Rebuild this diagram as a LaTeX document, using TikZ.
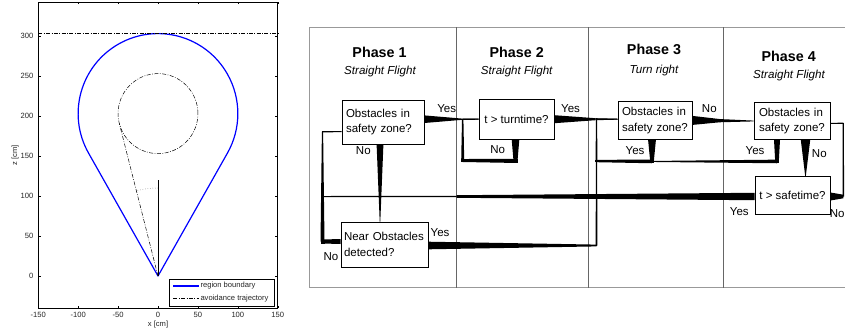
\documentclass[tikz,border=0pt]{standalone}
\usepackage{fontspec}
\setmainfont{Liberation Sans}
\usetikzlibrary{calc}
\newcommand\tapr[4]{\fill ($#1!#3!90:#2$) -- ($#2!#4!-90:#1$) -- ($#2!#4!90:#1$) -- ($#1!#3!-90:#2$) -- cycle;}
\newcommand\cornsq[2]{\fill ($#1+(-#2,-#2)$) rectangle ($#1+(#2,#2)$);}
\begin{document}
\begin{tikzpicture}[x=1pt,y=-1pt,
  every node/.style={inner sep=0pt},
  box/.style={draw=black, line width=0.9pt, fill=white, inner sep=0pt, font=\fontsize{11.5}{15.5}\selectfont},
  lab/.style={font=\fontsize{11.5}{14}\selectfont, anchor=base},
  ttl/.style={font=\fontsize{14.3}{17}\selectfont\bfseries, anchor=base},
  sub/.style={font=\fontsize{11.6}{14}\selectfont\itshape, anchor=base},
  frm/.style={draw=black!40, line width=1pt},
  divd/.style={draw=black!60, line width=1.2pt},
  tk/.style={font=\fontsize{7.6}{9}\selectfont, text=black!85},
  ddot/.style={dash pattern=on 4pt off 1.5pt on 0.8pt off 1.5pt, line width=0.5pt},
]
\useasboundingbox (0,0) rectangle (845,330);
\fill[white] (0,0) rectangle (845,330);

% ---------------- plot ----------------
\begin{scope}[shift={(158,276)}, x=0.7985pt, y=0.8pt]
  \draw[line width=0.6pt] (-150,-40) rectangle (150,342.5);
  \foreach \t [count=\i] in {-150,-100,...,150} {
    \draw[line width=0.5pt] (\t,-40) -- ++(0,3);
    \draw[line width=0.5pt] (\t,342.5) -- ++(0,-3);
    \node[tk] (xt\i) at (\t,-48.8) {\t};
  }
  \foreach \t [count=\i] in {0,50,...,300} {
    \draw[line width=0.5pt] (-150,\t) -- ++(3,0);
    \draw[line width=0.5pt] (150,\t) -- ++(-3,0);
    \node[tk,anchor=east] (yt\i) at (-155.9,\t) {\t};
  }
  \node[tk] (xl) at (0,-60.6) {x [cm]};
  \node[tk,rotate=90] (zl) at (-179,151) {z [cm]};
  % region boundary
  \draw[blue, line width=1.2pt, line join=round] (0,0) -- (-87.04,153.76)
     arc[start angle=209.5, end angle=-29.5, radius=100] -- cycle;
  % avoidance trajectory
  \draw[ddot] (0,203) circle[radius=50];
  \draw[ddot] (0,0) -- (-48.46,190.68);
  \draw[ddot] (-150,303.2) -- (150,303.2);
  \draw[dotted, line width=0.5pt, black!60] (0,110) arc[start angle=90, end angle=104.26, radius=110];
  \draw[line width=0.5pt] (0,0) -- (0,120);
  % legend
  \draw[fill=white, line width=0.5pt] (13.8,-4.1) rectangle (146.1,-37.5);
  \draw[blue, line width=1.2pt] (19.2,-12.5) -- (51.7,-12.5);
  \node[tk,anchor=west] (lg1) at (53,-12.5) {region boundary};
  \draw[ddot] (19.2,-28.4) -- (51.7,-28.4);
  \node[tk,anchor=west] (lg2) at (53,-28.4) {avoidance trajectory};
\end{scope}

% ---------------- flow chart frame ----------------
\draw[frm] (845,27.3) -- (309.7,27.3) -- (309.7,287.7) -- (845,287.7);
\draw[divd] (456.7,27.3) -- (456.7,287.7);
\draw[divd] (588.3,27.3) -- (588.3,287.7);
\draw[divd] (723.3,27.3) -- (723.3,287.7);

% titles
\node[ttl] (p1) at (379.5,57.6) {Phase 1};
\node[sub] (s1) at (380,74.9) {Straight Flight};
\node[ttl] (p2) at (516.7,57.6) {Phase 2};
\node[sub] (s2) at (516.7,74.9) {Straight Flight};
\node[ttl] (p3) at (654,54.6) {Phase 3};
\node[sub] (s3) at (654,73.5) {Turn right};
\node[ttl] (p4) at (788.7,61.3) {Phase 4};
\node[sub] (s4) at (789,78.5) {Straight Flight};

% boxes
\node[box, minimum width=82pt, minimum height=44pt, text width=74pt, align=left] (b1) at (383,122) {Obstacles in\\safety zone?};
\node[box, minimum width=75pt, minimum height=40pt] (b2) at (516.5,119.2) {t > turntime?};
\node[box, minimum width=74pt, minimum height=38pt, text width=66pt, align=left] (b3) at (655,120.4) {Obstacles in\\safety zone?};
\node[box, minimum width=76pt, minimum height=37pt, text width=66pt, align=left] (b4) at (792,121) {Obstacles in\\safety zone?};
\node[box, minimum width=75pt, minimum height=38pt] (b5) at (792.5,195.5) {t > safetime?};
\node[box, minimum width=87pt, minimum height=45pt, text width=81pt, align=left] (b6) at (384.5,244.5) {Near Obstacles\\detected?};

% ---------------- tapered connectors ----------------
% E1: b1 yes -> b2
\coordinate (e1a) at (b1.east |- b2.west);
\coordinate (e1b) at ($(e1a)!0.7!(b2.west)$);
\tapr{(e1a)}{(e1b)}{3.8pt}{0.6pt}
\tapr{(e1b)}{(b2.west)}{0.6pt}{0.5pt}
% E2: b1 no -> b6
\coordinate (e2a) at ($(b1.south)+(-3,0)$);
\coordinate (e2b) at (e2a |- b6.north);
\tapr{(e2a)}{(e2b)}{3.4pt}{0.3pt}
% E3: b2 yes -> b3
\coordinate (e3t) at (b3.west |- b2.east);
\coordinate (e3m) at ($(b2.east)!0.65!(e3t)$);
\tapr{(b2.east)}{(e3m)}{4pt}{1pt}
\tapr{(e3m)}{(e3t)}{1pt}{0.45pt}
% E4: b2 no -> loop back
\coordinate (e4a) at ($(b2.south)+(-1,0)$);
\coordinate (e4b) at ($(e4a)+(0,21.3)$);
\coordinate (e4c) at (462.7,160.5);
\coordinate (e4d) at (e4c |- b2.west);
\tapr{(e4a)}{(e4b)}{3.8pt}{2pt}
\cornsq{(e4b)}{2pt}
\tapr{(e4b)}{(e4c)}{2pt}{1.5pt}
\cornsq{(e4c)}{1.5pt}
\tapr{(e4c)}{(e4d)}{1.5pt}{0.7pt}
\cornsq{(e4d)}{0.7pt}
\tapr{(e4d)}{(b2.west)}{0.7pt}{0.5pt}
% E5: b3 no -> b4
\coordinate (e5m) at ($(b3.east)!0.45!(b4.west)$);
\tapr{(b3.east)}{(e5m)}{4.5pt}{1.6pt}
\tapr{(e5m)}{(b4.west)}{1.6pt}{0.4pt}
% E6: b3 yes -> loop back
\coordinate (e6a) at ($(b3.south)+(-3,0)$);
\coordinate (e6b) at ($(e6a)+(0,21.6)$);
\coordinate (e6c) at (596.5,161);
\coordinate (e6d) at (e6c |- e3t);
\tapr{(e6a)}{(e6b)}{3.9pt}{1.8pt}
\cornsq{(e6b)}{1.8pt}
\tapr{(e6b)}{(e6c)}{1.8pt}{1.2pt}
\cornsq{(e6c)}{1.1pt}
\tapr{(e6c)}{(e6d)}{0.9pt}{0.6pt}
\cornsq{(e6d)}{0.6pt}
\tapr{(e6d)}{(e3t)}{0.6pt}{0.45pt}
% E7: b4 yes -> joins E6
\coordinate (e7a) at ($(b4.south)+(-15,0)$);
\coordinate (e7b) at (e7a |- e6b);
\tapr{(e7a)}{(e7b)}{3pt}{1.8pt}
\cornsq{(e7b)}{1.8pt}
\tapr{(e7b)}{(e6b)}{1.8pt}{0.5pt}
% E8: b6 yes -> b3
\coordinate (e8a) at ($(b6.east)+(0,1)$);
\coordinate (e8b) at (e6c |- e8a);
\tapr{(e8a)}{(e8b)}{3.8pt}{0.9pt}
\cornsq{(e8b)}{0.8pt}
\tapr{(e8b)}{(e6c)}{0.8pt}{0.7pt}
% E9: b4 no -> b5
\coordinate (e9a) at ($(b4.south)+(13.5,0)$);
\coordinate (e9b) at (e9a |- b5.north);
\tapr{(e9a)}{(e9b)}{4.7pt}{0.3pt}
% E10: b5 yes -> back to phase 1
\coordinate (e10a) at ($(b5.west)+(0,1)$);
\coordinate (e10b) at (456.7,196.5);
\coordinate (e10c) at (322.5,196.5);
\tapr{(e10a)}{(e10b)}{3.7pt}{1.3pt}
\tapr{(e10b)}{(e10c)}{0.6pt}{0.5pt}
% E11: b6 no -> b1
\coordinate (e11a) at ($(b6.west)+(0,-3)$);
\coordinate (e11b) at (e10c |- e11a);
\coordinate (e11c) at (322.5,131.7);
\coordinate (e11d) at (b1.west |- e11c);
\tapr{(e11a)}{(e11b)}{2.5pt}{2pt}
\cornsq{(e11b)}{2pt}
\tapr{(e11b)}{(e11c)}{2pt}{0.6pt}
\cornsq{(e11c)}{0.6pt}
\tapr{(e11c)}{(e11d)}{0.6pt}{0.5pt}
% E12: b5 no -> b4
\coordinate (e12a) at ($(b5.east)+(0,1)$);
\coordinate (e12b) at (843.3,196.5);
\coordinate (e12c) at (843.3,123.3);
\coordinate (e12d) at (b4.east |- e12c);
\tapr{(e12a)}{(e12b)}{4pt}{1.8pt}
\tapr{(e12b)}{(e12c)}{0.75pt}{0.6pt}
\cornsq{(e12c)}{0.6pt}
\tapr{(e12c)}{(e12d)}{0.6pt}{0.5pt}

% labels
\node[lab] (ly1) at (446.7,112.4) {Yes};
\node[lab] (ln1) at (363.3,154.1) {No};
\node[lab] (ly2) at (570.5,112.1) {Yes};
\node[lab] (ln2) at (497.7,153.4) {No};
\node[lab] (ln3) at (709.3,112.4) {No};
\node[lab] (ly3) at (635,154.6) {Yes};
\node[lab] (ly4) at (755,154.6) {Yes};
\node[lab] (ln4) at (819.3,157.4) {No};
\node[lab] (ly5) at (739.3,215.1) {Yes};
\node[lab, anchor=base east] (ln5) at (844.7,217.4) {No};
\node[lab] (ly6) at (440,236.8) {Yes};
\node[lab] (ln6) at (331,260.1) {No};
\end{tikzpicture}
\end{document}
